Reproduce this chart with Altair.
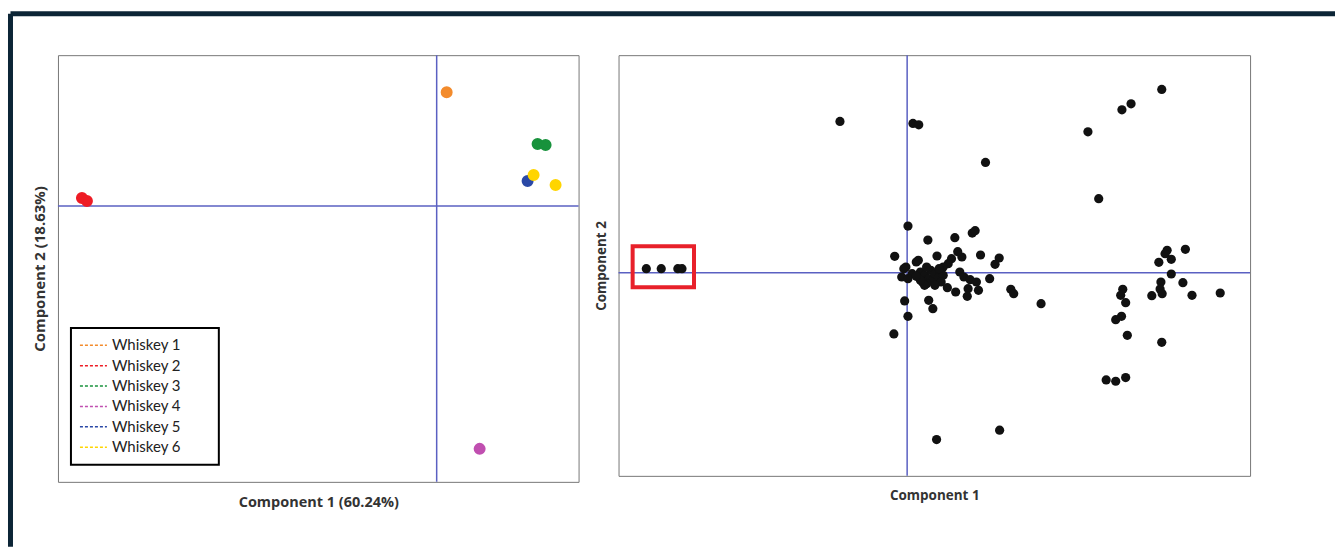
import altair as alt
import pandas as pd

# ---------------- data: left panel (whiskey PCA scores) ----------------
whiskey_names = ["Whiskey 1", "Whiskey 2", "Whiskey 3", "Whiskey 4", "Whiskey 5", "Whiskey 6"]
whiskey_colors = ["#f38b2c", "#ee1c25", "#18923c", "#c04fb0", "#2a48a6", "#ffd500"]
left_label = ["Whiskey 1", "Whiskey 2", "Whiskey 2", "Whiskey 3", "Whiskey 3",
              "Whiskey 4", "Whiskey 5", "Whiskey 6", "Whiskey 6"]
left_pc1 = [0.10, -3.55, -3.50, 1.01, 1.09, 0.43, 0.91, 0.97, 1.19]
left_pc2 = [1.14, 0.08, 0.05, 0.62, 0.61, -2.43, 0.25, 0.31, 0.21]

# ---------------- data: right panel (samples) ----------------
right_pc1 = [-6.29, -5.93, -5.53, -5.43,
             -1.62, 0.14, 0.28, 1.89, 4.36, 5.18, 5.40, 6.14, 4.62,
             0.02, 0.50, 1.15, 1.57, 1.64, -0.30, 0.27, 0.22, 1.77, 2.22, 2.12,
             1.32, 1.22, 0.72, 1.07, 0.99, 0.87, -0.03, -0.08,
             0.32, 0.42, 0.52, 0.62, 0.47, 0.37, 0.57, 0.67, 0.77, 0.87, 0.82,
             0.67, 0.42, 0.32, 0.12, -0.13, 0.02, 0.22, 0.47, 0.77,
             1.27, 1.37, 1.52, 1.67, 1.72, 1.47, 1.45, 1.17, 0.97, 1.99, 2.50,
             2.57, 3.23,
             -0.06, 0.02, 0.52, 0.62, -0.32, 0.71, 2.23,
             6.27, 6.22, 6.37, 6.07, 6.71, 6.37, 6.65, 6.12, 6.10, 6.15, 5.90,
             6.87, 7.55, 5.20, 5.15, 5.27, 5.17, 5.03, 5.31, 6.14, 4.80, 5.03, 5.27]
right_pc2 = [0.12, 0.12, 0.12, 0.12,
             4.54, 4.48, 4.44, 3.31, 4.23, 4.89, 5.07, 5.50, 2.22,
             1.40, 0.98, 1.05, 1.19, 1.26, 0.49, 0.37, 0.32, 0.53, 0.44, 0.25,
             0.47, 0.63, 0.50, 0.42, 0.27, 0.17, 0.17, 0.12,
             0.02, -0.08, -0.18, -0.23, -0.33, -0.28, 0.07, -0.03, -0.13, -0.08, -0.28,
             -0.38, -0.38, -0.23, -0.03, -0.13, -0.18, -0.11, 0.17, 0.12,
             0.02, -0.13, -0.21, -0.28, -0.53, -0.48, -0.71, -0.58, -0.45, -0.18, -0.50,
             -0.63, -0.93,
             -0.85, -1.31, -0.83, -1.08, -1.84, -5.01, -4.73,
             0.67, 0.57, 0.40, 0.31, 0.70, -0.04, -0.30, -0.28, -0.49, -0.63, -0.69,
             -0.68, -0.61, -0.50, -0.68, -0.90, -1.31, -1.41, -1.88, -2.09, -3.22, -3.26, -3.15]
highlight_x = [-6.62, -5.14]
highlight_y = [0.79, -0.44]

# ---------------- styles ----------------
NAVY = "#0c2536"
AXIS_LINE = "#5a60c2"
TITLE_FONT = "Open Sans"

left_df = pd.DataFrame({"w": left_label, "pc1": left_pc1, "pc2": left_pc2})
right_df = pd.DataFrame({"pc1": right_pc1, "pc2": right_pc2})
box_df = pd.DataFrame({"x1": [highlight_x[0]], "x2": [highlight_x[1]],
                       "y1": [highlight_y[0]], "y2": [highlight_y[1]]})
zero_df = pd.DataFrame({"v": [0]})
deco = alt.Data(values=[{"k": 1}])

lx = alt.Scale(domain=[-3.79, 1.42], nice=False, zero=False)
ly = alt.Scale(domain=[-2.76, 1.51], nice=False, zero=False)
rx = alt.Scale(domain=[-6.96, 8.27], nice=False, zero=False)
ry = alt.Scale(domain=[-6.10, 6.53], nice=False, zero=False)


def ax(title, pad, size):
    return alt.Axis(title=title, labels=False, ticks=False, domain=False, grid=False,
                    titleFont=TITLE_FONT, titleFontWeight="bold", titleFontSize=size,
                    titleColor="#333333", titlePadding=pad)


color_scale = alt.Scale(domain=whiskey_names, range=whiskey_colors)


def make_legend():
    return alt.Legend(title=None, orient="none", legendX=13, legendY=273,
                      symbolType="stroke", symbolDash=[3, 2], symbolStrokeWidth=1.5,
                      symbolSize=729, clipHeight=18.6, rowPadding=1.4,
                      labelFont="Lato", labelFontSize=15, labelColor="#222222",
                      labelOffset=4, padding=8)


# ---- left panel ----
legend_box = alt.Chart(deco).mark_rect(fill="white", stroke="black", strokeWidth=2).encode(
    x=alt.value(13), x2=alt.value(161), y=alt.value(273), y2=alt.value(410))
l_h = alt.Chart(zero_df).mark_rule(color=AXIS_LINE, strokeWidth=1.5).encode(
    y=alt.Y("v:Q", scale=ly, axis=ax("Component 2 (18.63%)", 10, 15)))
l_v = alt.Chart(zero_df).mark_rule(color=AXIS_LINE, strokeWidth=1.5).encode(
    x=alt.X("v:Q", scale=lx, axis=ax("Component 1 (60.24%)", 14, 14.5)))
l_pts = alt.Chart(left_df).mark_circle(size=100, opacity=1).encode(
    x=alt.X("pc1:Q", scale=lx),
    y=alt.Y("pc2:Q", scale=ly),
    color=alt.Color("w:N", scale=color_scale, legend=make_legend()),
    stroke=alt.Stroke("w:N", scale=color_scale, legend=make_legend()),
)
nav_v = alt.Chart(deco).mark_rule(color=NAVY, strokeWidth=5, strokeCap="butt").encode(
    x=alt.value(-47.5), y=alt.value(-41.5), y2=alt.value(492))
nav_h = alt.Chart(deco).mark_rule(color=NAVY, strokeWidth=5, strokeCap="butt").encode(
    x=alt.value(-47.5), x2=alt.value(1278), y=alt.value(-41.5))

left = alt.layer(nav_v, nav_h, l_h, l_v, legend_box, l_pts).properties(width=521, height=427)

# ---- right panel ----
r_h = alt.Chart(zero_df).mark_rule(color=AXIS_LINE, strokeWidth=1.5).encode(
    y=alt.Y("v:Q", scale=ry, axis=ax("Component 2", 10, 13.5)))
r_v = alt.Chart(zero_df).mark_rule(color=AXIS_LINE, strokeWidth=1.5).encode(
    x=alt.X("v:Q", scale=rx, axis=ax("Component 1", 13, 13.5)))
r_pts = alt.Chart(right_df).mark_circle(size=85, opacity=1, color="#111111").encode(
    x=alt.X("pc1:Q", scale=rx),
    y=alt.Y("pc2:Q", scale=ry),
)
r_box = alt.Chart(box_df).mark_rect(fillOpacity=0, stroke="#e8202a", strokeWidth=4).encode(
    x=alt.X("x1:Q", scale=rx), x2="x2:Q",
    y=alt.Y("y1:Q", scale=ry), y2="y2:Q")

right = alt.layer(r_h, r_v, r_pts, r_box).properties(width=632, height=421)

chart = alt.hconcat(left, right, spacing=40, bounds="flush").properties(
    padding={"left": 7, "top": 10, "right": 0, "bottom": 0},
    background="white",
).configure_view(stroke="#777777", strokeWidth=1)

chart.save("out.html", embed_options={"renderer": "svg", "actions": False})
